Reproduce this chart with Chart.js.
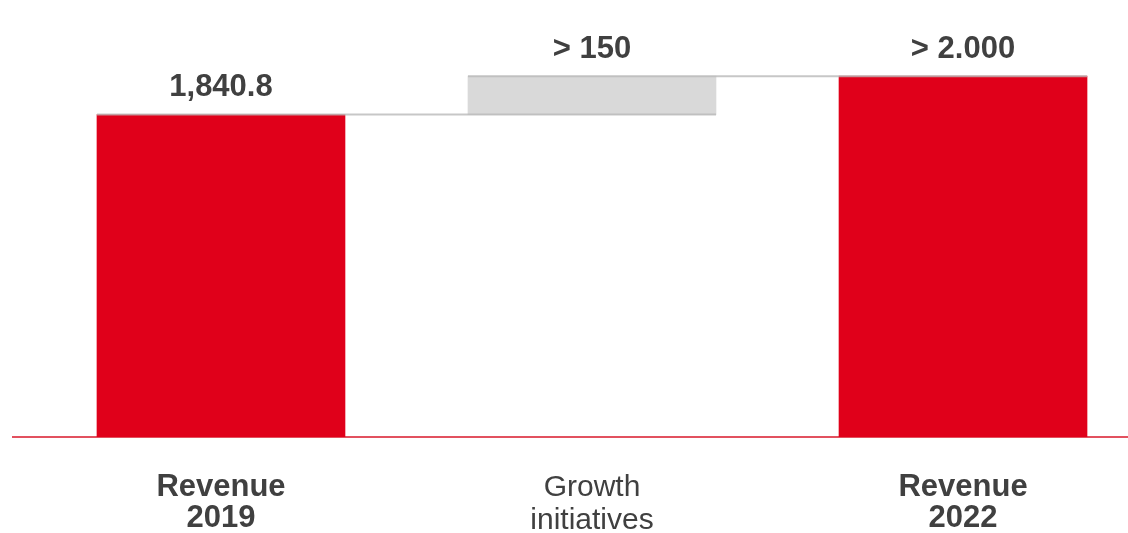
<!DOCTYPE html>
<html><head><meta charset="utf-8">
<script src="https://cdn.jsdelivr.net/npm/chart.js@4/dist/chart.umd.min.js"></script>
<style>html,body{margin:0;padding:0;background:#fff}#wrap{width:1128px;height:533px}</style>
</head><body><div id="wrap"><canvas id="c"></canvas></div>
<script>
const categories = [["Revenue","2019"],["Growth","initiatives"],["Revenue","2022"]];
const barStarts = [0, 1840.8, 0];
const barEnds = [1840.8, 2060, 2060];
const valueLabels = ["1,840.8", "> 150", "> 2.000"];
const boldCategory = [true, false, true];
const barColors = ["#E0001A", "#D9D9D9", "#E0001A"];

const FONT = "'Liberation Sans', Arial, sans-serif";
const data = categories.map((c, i) => ({x: i, y: [barStarts[i], barEnds[i]]}));

const overlay = {
  id: 'overlay',
  afterDatasetsDraw(chart) {
    const ctx = chart.ctx, meta = chart.getDatasetMeta(0), ys = chart.scales.y;
    const els = meta.data;
    ctx.save();
    ctx.strokeStyle = 'rgba(185,185,185,0.8)';
    ctx.lineWidth = 2;
    for (let i = 0; i < els.length - 1; i++) {
      const a = els[i], b = els[i + 1];
      const y = ys.getPixelForValue(barEnds[i]);
      ctx.beginPath();
      ctx.moveTo(a.x - a.width / 2, y);
      ctx.lineTo(b.x + b.width / 2, y);
      ctx.stroke();
    }
    ctx.fillStyle = '#404040';
    ctx.font = 'bold 31px ' + FONT;
    ctx.textAlign = 'center';
    ctx.textBaseline = 'middle';
    els.forEach((el, i) => {
      const top = ys.getPixelForValue(barEnds[i]);
      ctx.fillText(valueLabels[i], el.x, top - 27);
    });
    ctx.restore();
  }
};

new Chart(document.getElementById('c'), {
  type: 'bar',
  data: { datasets: [{ data, backgroundColor: barColors, barThickness: 248, borderWidth: 0 }] },
  options: {
    responsive: true, maintainAspectRatio: false, animation: false,
    layout: { padding: { left: 13, right: 0, top: 0, bottom: 0 } },
    plugins: { legend: { display: false }, tooltip: { enabled: false } },
    scales: {
      x: {
        type: 'linear', min: -0.5606, max: 2.4447, offset: false,
        afterBuildTicks(s) { s.ticks = categories.map((c, i) => ({value: i})); },
        afterFit(s) { s.height = 96; },
        grid: { display: false, drawTicks: false },
        border: { display: true, color: '#E2515F', width: 2 },
        ticks: {
          padding: 35, color: '#404040', maxRotation: 0, autoSkip: false,
          callback: (v) => categories[v],
          font: (ctx) => boldCategory[ctx.index]
            ? { family: FONT, size: 31, weight: 'bold', lineHeight: 1.0 }
            : { family: FONT, size: 30, weight: 'normal', lineHeight: 1.08 }
        }
      },
      y: { display: false, min: 0, max: 2495 }
    }
  },
  plugins: [overlay]
});
</script></body></html>
